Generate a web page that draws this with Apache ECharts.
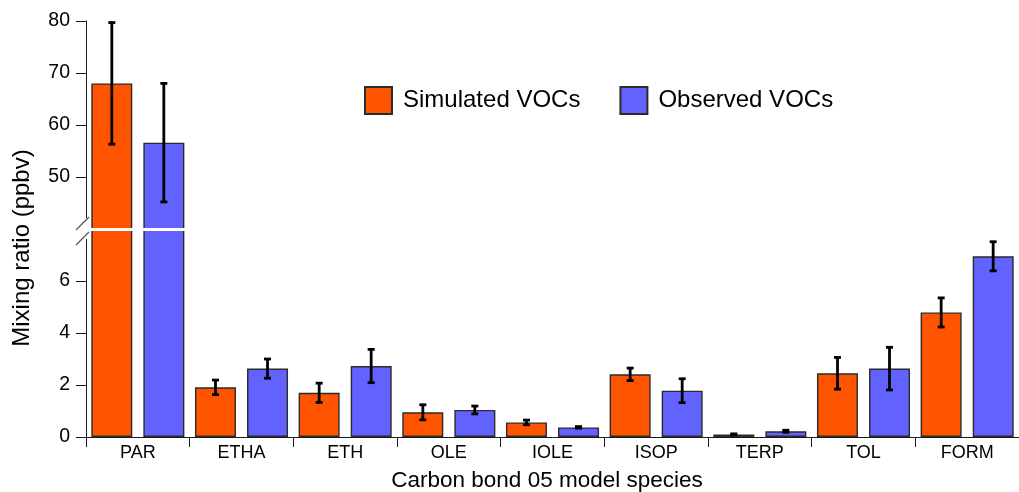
<!DOCTYPE html>
<html>
<head>
<meta charset="utf-8">
<script src="https://cdn.jsdelivr.net/npm/echarts@6/dist/echarts.min.js"></script>
<style>
html,body{margin:0;padding:0;background:#fff;}
#chart{width:1019px;height:492px;}
</style>
</head>
<body>
<div id="chart"></div>
<script>
// ---- data ----
var categories = ['PAR','ETHA','ETH','OLE','IOLE','ISOP','TERP','TOL','FORM'];
var simulated    = [68.0, 1.91, 1.70, 0.95, 0.56, 2.41, 0.10, 2.45, 4.79];
var simulatedErr = [11.7, 0.28, 0.37, 0.29, 0.09, 0.24, 0.02, 0.61, 0.56];
var observed     = [56.6, 2.63, 2.73, 1.04, 0.37, 1.78, 0.22, 2.63, 6.95];
var observedErr  = [11.4, 0.37, 0.64, 0.15, 0.03, 0.46, 0.04, 0.82, 0.56];
var lowerTicks = [0, 2, 4, 6];
var upperTicks = [50, 60, 70, 80];

// ---- axis ranges (broken y axis) ----
var LOW_MIN = 0, LOW_MAX = 8, UP_MIN = 40, UP_MAX = 80;

var FONT = '"Liberation Sans", Arial, sans-serif';
var ORANGE = '#FF5500', BLUE = '#6262FF', EDGE = '#2b2b2b';
var BAR_W = 41, BAR_GAP_PX = 11;

function splitVals(vals, upper) {
  return vals.map(function (v) {
    var inUpper = v > LOW_MAX;
    return (upper ? inUpper : true) ? v : '-';
  });
}
function errData(vals, errs, upper) {
  var out = [];
  vals.forEach(function (v, i) {
    var inUpper = v > LOW_MAX;
    if (inUpper === upper) out.push([i, v - errs[i], v + errs[i]]);
  });
  return out;
}
function errRender(dir) {
  return function (params, api) {
    var idx = api.value(0);
    var pLo = api.coord([idx, api.value(1)]);
    var pHi = api.coord([idx, api.value(2)]);
    var cx = pLo[0] + dir * (BAR_W + BAR_GAP_PX) / 2;
    var cap = 3.5;
    var st = {stroke: '#000', lineWidth: 2.8};
    return {type: 'group', children: [
      {type: 'line', shape: {x1: cx, y1: pHi[1], x2: cx, y2: pLo[1]}, style: st},
      {type: 'line', shape: {x1: cx - cap, y1: pHi[1], x2: cx + cap, y2: pHi[1]}, style: st},
      {type: 'line', shape: {x1: cx - cap, y1: pLo[1], x2: cx + cap, y2: pLo[1]}, style: st}
    ]};
  };
}

var axisLineStyle = {color: '#1a1a1a', width: 1};
var labelStyle = {color: '#000', fontFamily: FONT};

var option = {
  backgroundColor: '#fff',
  animation: false,
  legend: {
    left: 359, top: 81,
    itemWidth: 27, itemHeight: 27, itemGap: 39,
    icon: 'rect',
    textStyle: {fontSize: 24, color: '#000', fontFamily: FONT, padding: [0, 0, 0, 6]},
    data: ['Simulated VOCs', 'Observed VOCs']
  },
  grid: [
    {left: 86, right: -7, top: 21, height: 208},
    {left: 86, right: -7, top: 229, height: 208}
  ],
  xAxis: [
    {gridIndex: 0, type: 'category', data: categories, show: false},
    {gridIndex: 1, type: 'category', data: categories,
     axisLine: {lineStyle: axisLineStyle},
     axisTick: {show: true, length: 10, lineStyle: axisLineStyle},
     axisLabel: Object.assign({fontSize: 18, margin: 7}, labelStyle)}
  ],
  yAxis: [
    {gridIndex: 0, type: 'value', min: UP_MIN, max: UP_MAX, interval: 10,
     splitLine: {show: false},
     axisLine: {show: true, lineStyle: axisLineStyle},
     axisTick: {show: true, length: 10, lineStyle: axisLineStyle},
     axisLabel: Object.assign({fontSize: 19.5, margin: 16,
       formatter: function (v) { return upperTicks.indexOf(v) >= 0 ? String(v) : ''; }}, labelStyle)},
    {gridIndex: 1, type: 'value', min: LOW_MIN, max: LOW_MAX, interval: 2,
     splitLine: {show: false},
     axisLine: {show: true, lineStyle: axisLineStyle},
     axisTick: {show: true, length: 10, lineStyle: axisLineStyle},
     axisLabel: Object.assign({fontSize: 19.5, margin: 16,
       formatter: function (v) { return lowerTicks.indexOf(v) >= 0 ? String(v) : ''; }}, labelStyle)}
  ],
  series: [
    {name: 'Simulated VOCs', type: 'bar', xAxisIndex: 0, yAxisIndex: 0, data: splitVals(simulated, true),
     barWidth: BAR_W, barGap: '27%', itemStyle: {color: ORANGE, borderColor: EDGE, borderWidth: 1.4}},
    {name: 'Observed VOCs', type: 'bar', xAxisIndex: 0, yAxisIndex: 0, data: splitVals(observed, true),
     barWidth: BAR_W, barGap: '27%', itemStyle: {color: BLUE, borderColor: EDGE, borderWidth: 1.4}},
    {name: 'Simulated VOCs', type: 'bar', xAxisIndex: 1, yAxisIndex: 1, data: splitVals(simulated, false),
     barWidth: BAR_W, barGap: '27%', itemStyle: {color: ORANGE, borderColor: EDGE, borderWidth: 1.4}},
    {name: 'Observed VOCs', type: 'bar', xAxisIndex: 1, yAxisIndex: 1, data: splitVals(observed, false),
     barWidth: BAR_W, barGap: '27%', itemStyle: {color: BLUE, borderColor: EDGE, borderWidth: 1.4}},
    {type: 'custom', xAxisIndex: 0, yAxisIndex: 0, z: 5, renderItem: errRender(-1), data: errData(simulated, simulatedErr, true)},
    {type: 'custom', xAxisIndex: 0, yAxisIndex: 0, z: 5, renderItem: errRender(1), data: errData(observed, observedErr, true)},
    {type: 'custom', xAxisIndex: 1, yAxisIndex: 1, z: 5, renderItem: errRender(-1), data: errData(simulated, simulatedErr, false)},
    {type: 'custom', xAxisIndex: 1, yAxisIndex: 1, z: 5, renderItem: errRender(1), data: errData(observed, observedErr, false)}
  ],
  graphic: [
    // white break band across the plot
    {type: 'rect', z: 100, shape: {x: 87, y: 228, width: 940, height: 3}, style: {fill: '#fff'}},
    // gap in the y axis line at the break
    {type: 'rect', z: 100, shape: {x: 70, y: 218, width: 18, height: 21}, style: {fill: '#fff'}},
    {type: 'line', z: 101, shape: {x1: 76, y1: 230, x2: 89, y2: 217}, style: {stroke: '#555', lineWidth: 1.3}},
    {type: 'line', z: 101, shape: {x1: 76, y1: 245, x2: 89, y2: 232}, style: {stroke: '#555', lineWidth: 1.3}},
    // axis titles
    {type: 'text', z: 101, x: 22, y: 248, rotation: Math.PI / 2,
     style: {text: 'Mixing ratio (ppbv)', fill: '#000', font: '24px ' + FONT, textAlign: 'center', textVerticalAlign: 'middle'}},
    {type: 'text', z: 101, x: 547, y: 481,
     style: {text: 'Carbon bond 05 model species', fill: '#000', font: '22.5px ' + FONT, textAlign: 'center', textVerticalAlign: 'middle'}}
  ]
};

var chart = echarts.init(document.getElementById('chart'), null, {renderer: 'canvas'});
chart.setOption(option);
</script>
</body>
</html>
